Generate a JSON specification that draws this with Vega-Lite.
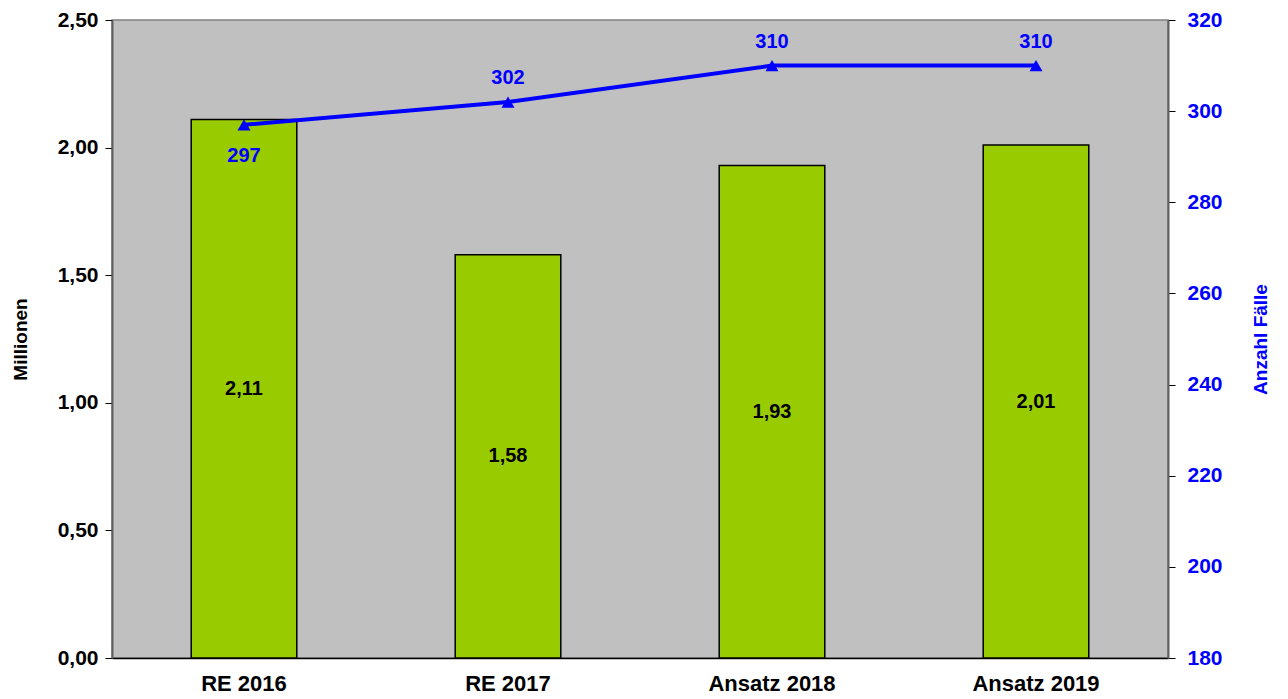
{
  "$schema": "https://vega.github.io/schema/vega-lite/v6.json",
  "width": 1056,
  "height": 638,
  "autosize": "none",
  "padding": {"left": 112, "top": 20, "right": 120, "bottom": 41},
  "background": "white",
  "config": {
    "locale": {"number": {"decimal": ",", "thousands": ".", "grouping": [3], "currency": ["", " €"]}},
    "view": {"fill": "#C0C0C0", "stroke": "#808080", "strokeWidth": 1.5},
    "font": "Liberation Sans"
  },
  "data": {
    "values": [
      {"kategorie": "RE 2016", "millionen": 2.11, "faelle": 297},
      {"kategorie": "RE 2017", "millionen": 1.58, "faelle": 302},
      {"kategorie": "Ansatz 2018", "millionen": 1.93, "faelle": 310},
      {"kategorie": "Ansatz 2019", "millionen": 2.01, "faelle": 310}
    ]
  },
  "encoding": {
    "x": {
      "field": "kategorie",
      "type": "nominal",
      "sort": null,
      "scale": {"paddingInner": 0.6, "paddingOuter": 0.3},
      "axis": {
        "title": null,
        "labelAngle": 0,
        "labelFont": "Liberation Sans",
        "labelFontWeight": "bold",
        "labelFontSize": 22,
        "labelColor": "black",
        "labelPadding": 15,
        "ticks": false,
        "domainColor": "black",
        "domainWidth": 1.5
      }
    }
  },
  "layer": [
    {
      "layer": [
        {
          "mark": {"type": "bar", "fill": "#99CC00", "stroke": "black", "strokeWidth": 1.5},
          "encoding": {
            "y": {
              "field": "millionen",
              "type": "quantitative",
              "scale": {"domain": [0, 2.5], "nice": false},
              "axis": {
                "title": "Millionen",
                "titleFont": "Liberation Sans",
                "titleFontSize": 19,
                "titleFontWeight": "bold",
                "titleColor": "black",
                "titlePadding": 27,
                "values": [0, 0.5, 1, 1.5, 2, 2.5],
                "format": ".2f",
                "labelFont": "Liberation Sans",
                "labelFontWeight": "bold",
                "labelFontSize": 21,
                "labelColor": "black",
                "labelPadding": 7,
                "tickColor": "black",
                "tickSize": 7,
                "domainColor": "#606060",
                "domainWidth": 2,
                "grid": false
              }
            }
          }
        },
        {
          "transform": [{"calculate": "datum.millionen / 2", "as": "mitte"}],
          "mark": {"type": "text", "font": "Liberation Sans", "fontWeight": "bold", "fontSize": 20, "color": "black"},
          "encoding": {
            "y": {"field": "mitte", "type": "quantitative", "scale": {"domain": [0, 2.5], "nice": false}},
            "text": {"field": "millionen", "type": "quantitative", "format": ".2f"}
          }
        }
      ]
    },
    {
      "layer": [
        {
          "mark": {"type": "line", "color": "#0000FF", "strokeWidth": 4},
          "encoding": {
            "y": {
              "field": "faelle",
              "type": "quantitative",
              "scale": {"domain": [180, 320], "nice": false, "zero": false},
              "axis": {
                "orient": "right",
                "title": "Anzahl Fälle",
                "titleAngle": 270,
                "titleFont": "Liberation Sans",
                "titleFontSize": 19,
                "titleFontWeight": "bold",
                "titleColor": "#0000FF",
                "titlePadding": 48,
                "values": [180, 200, 220, 240, 260, 280, 300, 320],
                "labelFont": "Liberation Sans",
                "labelFontWeight": "bold",
                "labelFontSize": 21,
                "labelColor": "#0000FF",
                "labelPadding": 12,
                "tickColor": "black",
                "tickSize": 7,
                "domainColor": "#606060",
                "domainWidth": 2,
                "grid": false
              }
            }
          }
        },
        {
          "mark": {"type": "point", "shape": "triangle-up", "filled": true, "color": "#0000FF", "size": 170, "opacity": 1},
          "encoding": {
            "y": {"field": "faelle", "type": "quantitative"}
          }
        },
        {
          "transform": [{"filter": "datum.kategorie === 'RE 2016'"}],
          "mark": {"type": "text", "font": "Liberation Sans", "fontWeight": "bold", "fontSize": 20, "color": "#0000FF", "dy": 31},
          "encoding": {
            "y": {"field": "faelle", "type": "quantitative"},
            "text": {"field": "faelle", "type": "quantitative"}
          }
        },
        {
          "transform": [{"filter": "datum.kategorie !== 'RE 2016'"}],
          "mark": {"type": "text", "font": "Liberation Sans", "fontWeight": "bold", "fontSize": 20, "color": "#0000FF", "dy": -24},
          "encoding": {
            "y": {"field": "faelle", "type": "quantitative"},
            "text": {"field": "faelle", "type": "quantitative"}
          }
        }
      ]
    }
  ],
  "resolve": {"scale": {"y": "independent"}}
}
